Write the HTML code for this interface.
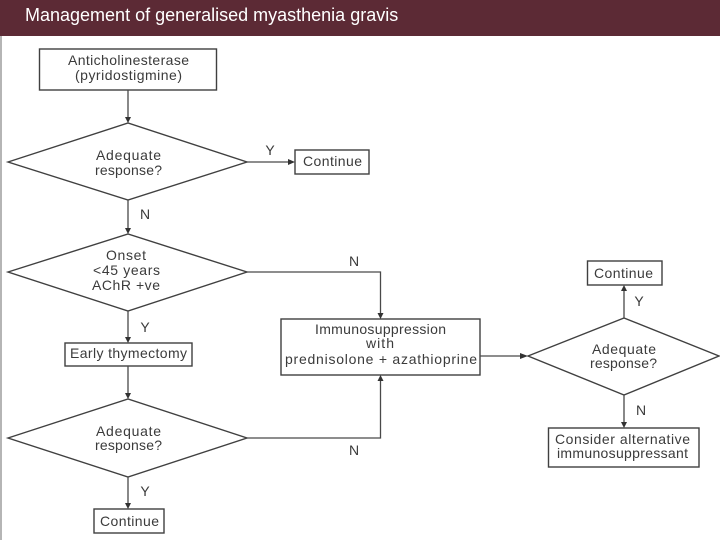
<!DOCTYPE html>
<html>
<head>
<meta charset="utf-8">
<style>
html,body{margin:0;padding:0;background:#fff;}
#wrap{position:relative;width:720px;height:540px;overflow:hidden;background:#fff;}
#head{position:absolute;left:0;top:0;width:720px;height:36px;background:#5c2a35;}
#title{position:absolute;left:25px;top:6px;color:#fff;font:18px/18px "Liberation Sans",sans-serif;white-space:nowrap;}
#bar{position:absolute;left:0;top:36px;width:1.5px;height:504px;background:#b5b5b5;}
svg{position:absolute;left:0;top:0;}
svg text{font-family:"Liberation Sans",sans-serif;font-size:14px;fill:#3a3a3a;text-anchor:middle;}
.s{fill:none;stroke:#404040;stroke-width:1.4;}
.c{fill:none;stroke:#4a4a4a;stroke-width:1.3;}
.a{fill:#333;stroke:none;}
</style>
</head>
<body>
<div id="wrap">
<div id="head"></div>
<div id="title">Management of generalised myasthenia gravis</div>
<div id="bar"></div>
<svg width="720" height="540" viewBox="0 0 720 540">
<defs><filter id="b" filterUnits="userSpaceOnUse" x="0" y="0" width="720" height="540"><feGaussianBlur stdDeviation="0.35"/></filter></defs>
<g filter="url(#b)">
<rect class="s" x="39.5" y="49" width="177" height="41"/>
<polygon class="s" points="8,162 128,123 247,162 128,200"/>
<rect class="s" x="295" y="150" width="74" height="24"/>
<polygon class="s" points="8,272 128,234 247,272 128,311"/>
<rect class="s" x="65" y="343" width="127" height="23"/>
<polygon class="s" points="8,438 128,399 247,438 128,477"/>
<rect class="s" x="94" y="509" width="70" height="24"/>
<rect class="s" x="281" y="319" width="199" height="56"/>
<polygon class="s" points="528,356 624,318 719,356 624,395"/>
<rect class="s" x="587.5" y="261" width="74.5" height="24"/>
<rect class="s" x="548.5" y="428" width="150.5" height="39"/>

<path class="c" d="M128 90V118M128 200V229M128 311V338M128 366V394M128 477V504"/>
<path class="c" d="M247 162H290"/>
<path class="c" d="M247 272H380.500V314M247 438H380.500V380"/>
<path class="c" d="M480 356H523"/>
<path class="c" d="M624 318V290M624 395V423"/>

<polygon class="a" points="125,117 131,117 128,123"/>
<polygon class="a" points="125,228 131,228 128,234"/>
<polygon class="a" points="125,337 131,337 128,343"/>
<polygon class="a" points="125,393 131,393 128,399"/>
<polygon class="a" points="125,503 131,503 128,509"/>
<polygon class="a" points="288,159 295,162 288,165"/>
<polygon class="a" points="377.500,313 383.500,313 380.500,319"/>
<polygon class="a" points="377.500,381 383.500,381 380.500,375"/>
<polygon class="a" points="520,353 528,356 520,359"/>
<polygon class="a" points="621,291 627,291 624,285"/>
<polygon class="a" points="621,422 627,422 624,428"/>

<text x="128.500" y="65" textLength="121">Anticholinesterase</text>
<text x="128.500" y="80" textLength="107">(pyridostigmine)</text>
<text x="128.500" y="160" textLength="65">Adequate</text>
<text x="128.500" y="175" textLength="67">response?</text>
<text x="332.500" y="166" textLength="59">Continue</text>
<text x="270" y="155">Y</text>
<text x="145" y="219">N</text>
<text x="126" y="260" textLength="40">Onset</text>
<text x="126.500" y="275" textLength="67">&lt;45 years</text>
<text x="126" y="290" textLength="68">AChR +ve</text>
<text x="354" y="266">N</text>
<text x="145" y="332">Y</text>
<text x="128.500" y="358" textLength="117">Early thymectomy</text>
<text x="128.500" y="436" textLength="65">Adequate</text>
<text x="128.500" y="450" textLength="67">response?</text>
<text x="354" y="455">N</text>
<text x="145" y="496">Y</text>
<text x="129.500" y="526" textLength="59">Continue</text>
<text x="380.500" y="334" textLength="131">Immunosuppression</text>
<text x="380" y="348" textLength="28">with</text>
<text x="381" y="364" textLength="192">prednisolone + azathioprine</text>
<text x="623.500" y="278" textLength="59">Continue</text>
<text x="639" y="306">Y</text>
<text x="624" y="354" textLength="64">Adequate</text>
<text x="623.500" y="368" textLength="67">response?</text>
<text x="641" y="415">N</text>
<text x="622.500" y="444" textLength="135">Consider alternative</text>
<text x="622.500" y="458" textLength="131">immunosuppressant</text>
</g>
</svg>
</div>
</body>
</html>
